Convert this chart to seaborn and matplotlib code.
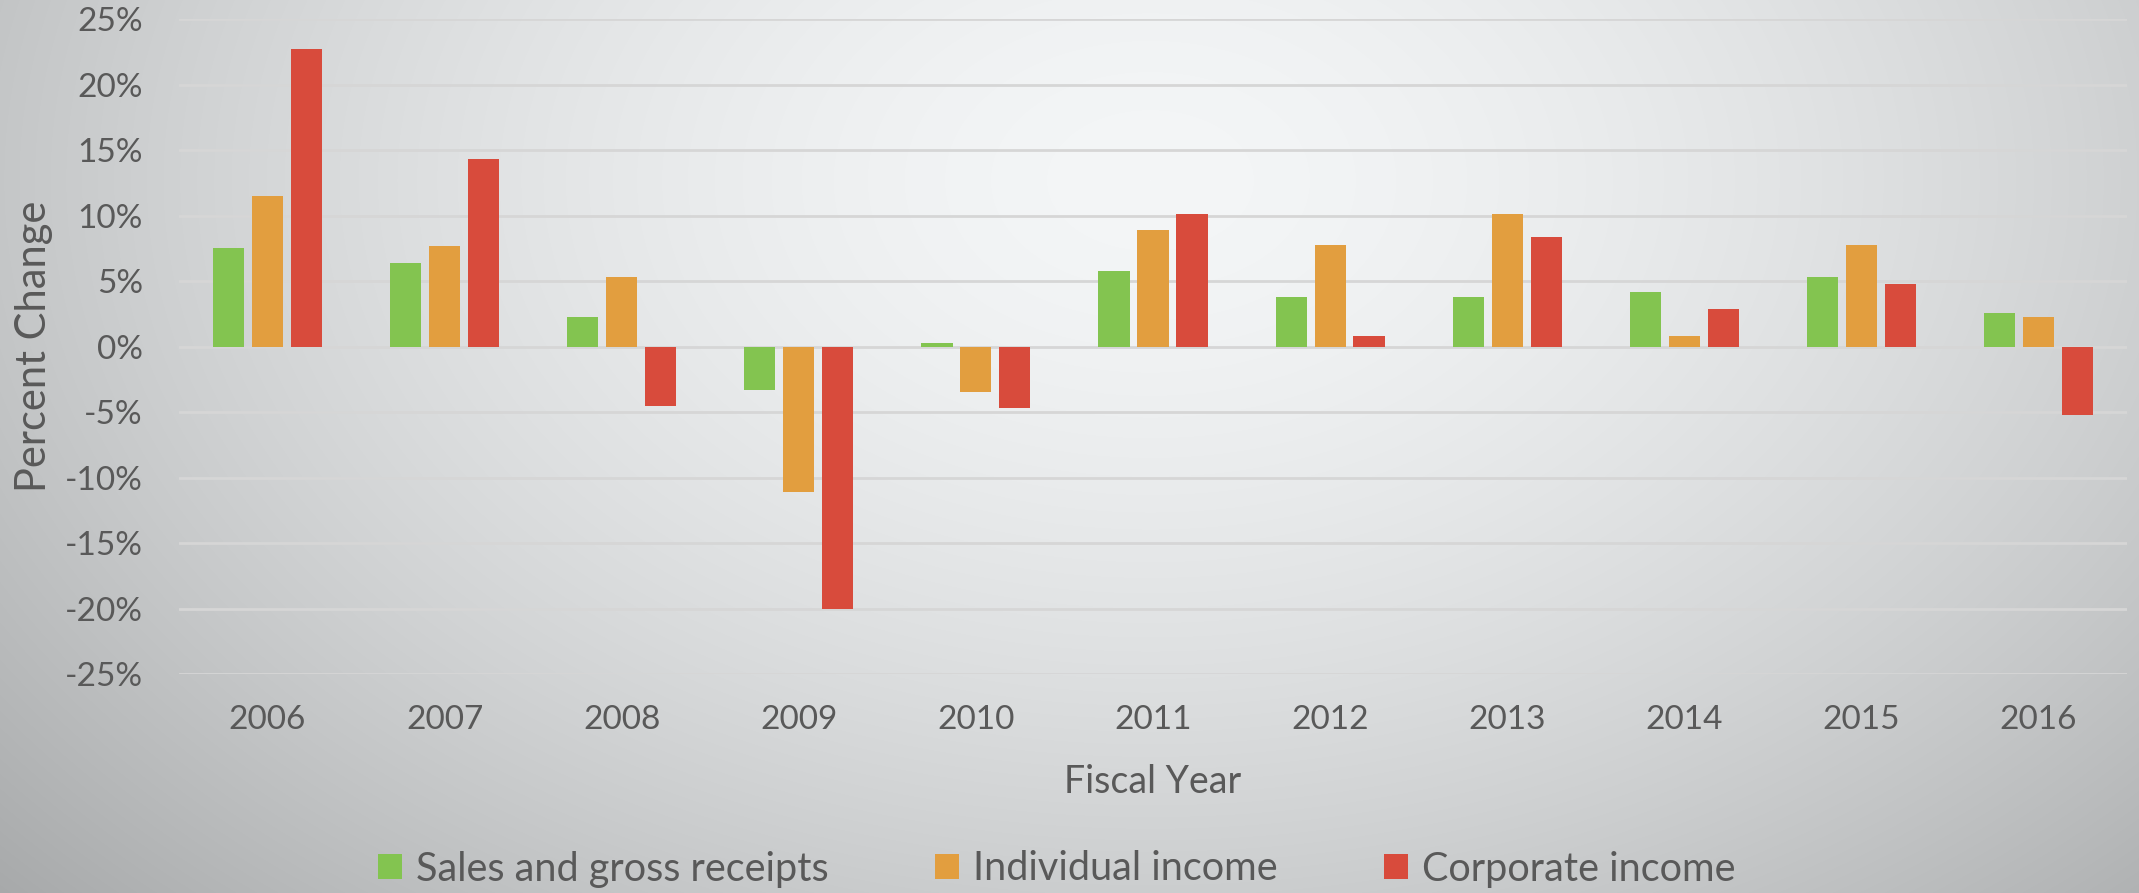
import numpy as np
import pandas as pd
import matplotlib.pyplot as plt
import seaborn as sns
from matplotlib.ticker import FuncFormatter

# Year-over-year change in tax revenue
years = ['2006', '2007', '2008', '2009', '2010', '2011', '2012', '2013', '2014', '2015', '2016']
sales = [7.5, 6.4, 2.3, -3.3, 0.3, 5.8, 3.8, 3.8, 4.2, 5.3, 2.6]
individual = [11.5, 7.7, 5.3, -11.1, -3.5, 8.9, 7.8, 10.1, 0.8, 7.8, 2.3]
corporate = [22.7, 14.3, -4.5, -20.0, -4.7, 10.1, 0.8, 8.4, 2.9, 4.8, -5.2]
series_names = ['Sales and gross receipts', 'Individual income', 'Corporate income']
colors = ['#83c450', '#e29e3f', '#d84b3c']
y_ticks = list(range(-25, 30, 5))

df = pd.DataFrame({
    'Fiscal Year': years * 3,
    'Percent Change': sales + individual + corporate,
    'Series': np.repeat(series_names, len(years)),
})

sns.set_style('white')
plt.rcParams['font.family'] = ['Lato', 'DejaVu Sans']
text_color = '#595959'

W, H = 2139, 893
fig = plt.figure(figsize=(W / 100, H / 100), dpi=100)

# soft radial gray background
bg = fig.add_axes([0, 0, 1, 1], zorder=-10)
yy, xx = np.mgrid[0:H, 0:W]
d = np.sqrt(((xx - 1150) / 1250) ** 2 + ((yy - 180) / 850) ** 2)
shade = 246 - 54 * np.clip(d, 0, 1.3) ** 1.6
img = np.dstack([shade - 2, shade, shade + 1]).clip(0, 255) / 255
bg.imshow(img, aspect='auto', extent=[0, 1, 0, 1])
bg.axis('off')

# main axes
ax = fig.add_axes([179 / W, 1 - 674 / H, 1948 / W, (674 - 19.3) / H])
ax.patch.set_alpha(0)
sns.barplot(data=df, x='Fiscal Year', y='Percent Change', hue='Series',
            palette=colors, saturation=1, width=0.66, gap=0.2,
            errorbar=None, linewidth=0, ax=ax, legend=True)

ax.set_ylim(-25, 25)
ax.set_yticks(y_ticks)
ax.yaxis.set_major_formatter(FuncFormatter(lambda v, p: f'{int(v)}%'))
ax.yaxis.grid(True, color='#d6d6d6', lw=2)
ax.set_axisbelow(True)
sns.despine(ax=ax, left=True, bottom=True)
ax.tick_params(length=0, labelsize=24, colors=text_color)
ax.tick_params(axis='y', pad=26)
ax.tick_params(axis='x', pad=22)

ax.set_xlabel('Fiscal Year', fontsize=27, color=text_color)
ax.xaxis.set_label_coords(0.5, -0.165)
ax.xaxis.label.set_va('center')
ax.set_ylabel('Percent Change', fontsize=30, color=text_color)
ax.yaxis.set_label_coords(-0.0744, 0.5)
ax.yaxis.label.set_va('center')

handles, labels = ax.get_legend_handles_labels()
ax.get_legend().remove()
fig.legend(handles, labels, loc='center', bbox_to_anchor=(0.494, 1 - 869 / H),
           ncol=3, frameon=False, fontsize=28.5, labelcolor=text_color,
           handlelength=0.6, handleheight=0.6, handletextpad=0.35, columnspacing=2.7)

fig.savefig('out.png', dpi=100)
